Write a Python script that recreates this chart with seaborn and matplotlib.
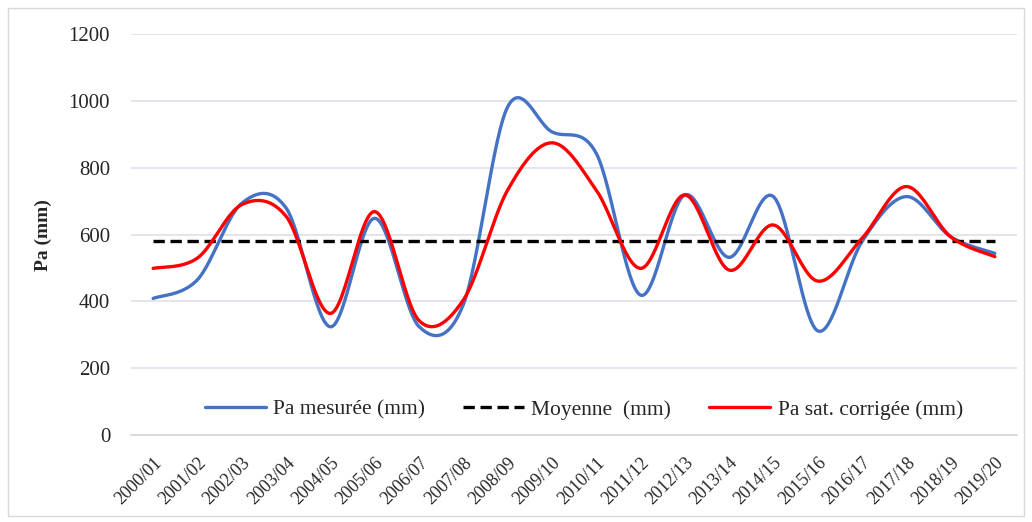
import numpy as np
import pandas as pd
import seaborn as sns
import matplotlib.pyplot as plt
from matplotlib.patches import Rectangle
from matplotlib.transforms import ScaledTranslation

# Data
saisons = ['2000/01', '2001/02', '2002/03', '2003/04', '2004/05', '2005/06', '2006/07',
           '2007/08', '2008/09', '2009/10', '2010/11', '2011/12', '2012/13', '2013/14',
           '2014/15', '2015/16', '2016/17', '2017/18', '2018/19', '2019/20']
pa_mesuree = [409, 465, 694, 680, 324, 649, 325, 390, 982, 908,
              844, 419, 719, 532, 714, 312, 579, 714, 594, 544]
pa_sat_corrigee = [499, 530, 690, 655, 364, 669, 343, 404, 733, 875,
                   734, 499, 719, 494, 629, 461, 589, 744, 594, 534]
moyenne = [582] * 20


# Smoothed line like the spreadsheet one (Catmull-Rom through each point)
def smooth(values, n=30):
    y = np.asarray(values, dtype=float)
    x = np.arange(len(y), dtype=float)
    px = np.concatenate([[x[0]], x, [x[-1]]])
    py = np.concatenate([[y[0]], y, [y[-1]]])
    xs, ys = [], []
    t = np.linspace(0, 1, n, endpoint=False)
    for i in range(1, len(px) - 2):
        for p, out in ((px, xs), (py, ys)):
            p0, p1, p2, p3 = p[i - 1], p[i], p[i + 1], p[i + 2]
            out.extend(0.5 * ((2 * p1) + (-p0 + p2) * t
                              + (2 * p0 - 5 * p1 + 4 * p2 - p3) * t ** 2
                              + (-p0 + 3 * p1 - 3 * p2 + p3) * t ** 3))
    xs.append(x[-1])
    ys.append(y[-1])
    return pd.DataFrame({'x': xs, 'y': ys})


sns.set_style('white')
plt.rcParams['font.family'] = ['Liberation Serif', 'DejaVu Serif']

fig = plt.figure(figsize=(10.32, 5.22), dpi=100)
ax = fig.add_axes([131 / 1032, 1 - 435 / 522, (1017 - 131) / 1032, (435 - 34.3) / 522])

d1 = smooth(pa_mesuree)
d2 = smooth(pa_sat_corrigee)
sns.lineplot(data=d1, x='x', y='y', ax=ax, color='#4472C4', lw=2.4,
             label='Pa mesurée (mm)', estimator=None, sort=False)
sns.lineplot(x=np.arange(len(moyenne)), y=moyenne, ax=ax, color='black', lw=2.4,
             linestyle=(0, (3.4, 1.7)), label='Moyenne  (mm)')
sns.lineplot(data=d2, x='x', y='y', ax=ax, color='#FF0000', lw=2.4,
             label='Pa sat. corrigée (mm)', estimator=None, sort=False)

ax.set_xlim(-0.5, len(saisons) - 0.5)
ax.set_ylim(0, 1200)
ax.set_yticks(range(0, 1201, 200))
ax.set_xticks(range(len(saisons)))
ax.set_xticklabels(saisons, rotation=45, ha='right', va='top', rotation_mode='anchor')
shift = ScaledTranslation(1 / 100, 0, fig.dpi_scale_trans)
for lab in ax.get_xticklabels():
    lab.set_transform(lab.get_transform() + shift)
ax.set_xticks(np.arange(-0.5, len(saisons)), minor=True)
ax.tick_params(axis='x', which='major', length=0, pad=14, labelsize=13)
ax.tick_params(axis='x', which='minor', length=6, color='#d9d9d9', width=1.2, direction='out')
ax.tick_params(axis='y', length=0, pad=15, labelsize=15)
ax.grid(axis='y', color='#dfe3ea', lw=1.3)
ax.set_axisbelow(True)
for s in ['top', 'right', 'left']:
    ax.spines[s].set_visible(False)
ax.spines['bottom'].set_color('#d9d9d9')
ax.spines['bottom'].set_linewidth(1.3)
ax.set_xlabel('')
ax.set_ylabel('Pa (mm)', fontweight='bold', fontsize=14, labelpad=12)

ax.legend(loc='lower center', bbox_to_anchor=(0.511, -0.01), ncol=3, frameon=False,
          fontsize=15.5, handlelength=2.84, columnspacing=1.77, handletextpad=0.33)

fig.patches.append(Rectangle((8 / 1032, 6 / 522), 1016 / 1032, 508 / 522,
                             transform=fig.transFigure, fill=False,
                             edgecolor='#d9d9d9', lw=1))

fig.savefig('out.png', dpi=100)
